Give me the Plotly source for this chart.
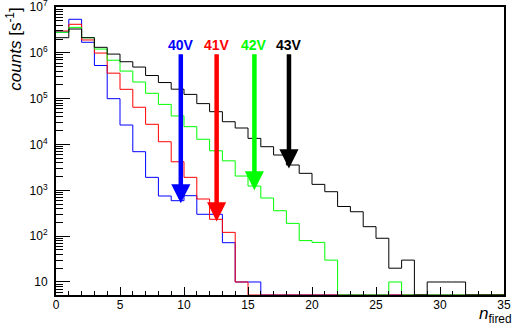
import math
import plotly.graph_objects as go

# ---- data ----
bin_edges = list(range(0, 36))  # 35 bins of width 1, from 0 to 35

blue_40V = [2.85e6, 5.4e6, 1.70e6, 5.3e5, 1.0e5, 2.66e4, 6.97e3, 1.92e3, 752, 594,
            764, 300, 300, 72, 10, 10, 0, 0, 0, 0,
            0, 0, 0, 0, 0, 0, 0, 0, 0, 0,
            0, 0, 0, 0, 0]
red_41V = [3.0e6, 4.2e6, 1.91e6, 9.9e5, 3.6e5, 1.6e5, 6.5e4, 2.76e4, 1.15e4, 4.2e3,
           1.92e3, 647, 233, 121, 10, 0, 0, 0, 0, 0,
           0, 0, 0, 0, 0, 0, 0, 0, 0, 0,
           0, 0, 0, 0, 0]
green_42V = [2.81e6, 3.6e6, 2.14e6, 1.21e6, 6.9e5, 4.0e5, 2.31e5, 1.31e5, 7.5e4, 4.2e4,
             2.45e4, 1.30e4, 7.3e3, 4.4e3, 2.05e3, 1.24e3, 680, 359, 190, 80,
             73, 30, 0, 0, 0, 0, 10, 0, 0, 0,
             0, 0, 0, 0, 0]
black_43V = [2.14e6, 3.31e6, 2.14e6, 1.32e6, 9.4e5, 6.4e5, 4.9e5, 3.2e5, 2.25e5, 1.61e5,
             1.24e5, 7.8e4, 5.2e4, 3.14e4, 2.29e4, 1.36e4, 8.95e3, 5.9e3, 3.57e3, 2.35e3,
             1.35e3, 933, 444, 341, 161, 90, 20, 30, 0, 10,
             10, 10, 0, 0, 0]

series_names = ["40V", "41V", "42V", "43V"]
series_values = [blue_40V, red_41V, green_42V, black_43V]
series_colors = ["#0000ff", "#ff0000", "#00ff00", "#000000"]

arrow_x = [9.75, 12.55, 15.5, 18.2]
arrow_tip = [5.2e2, 2.1e2, 1.0e3, 3.0e3]
arrow_tail = [1.0e6, 1.0e6, 1.0e6, 1.0e6]

y_min, y_max = 5.2, 1e7
x_min, x_max = 0, 35

y_tick_vals = [10, 1e2, 1e3, 1e4, 1e5, 1e6, 1e7]
y_tick_text = ["10", "10<sup>2</sup>", "10<sup>3</sup>", "10<sup>4</sup>",
               "10<sup>5</sup>", "10<sup>6</sup>", "10<sup>7</sup>"]
x_tick_vals = [0, 5, 10, 15, 20, 25, 30, 35]

FONT = "Liberation Sans, Arial, Helvetica, sans-serif"

fig = go.Figure()

for name, vals, col in zip(series_names, series_values, series_colors):
    yplot = [v if v > 0 else y_min for v in vals]
    fig.add_trace(go.Scatter(
        x=bin_edges,
        y=yplot + [yplot[-1]],
        mode="lines",
        line=dict(color=col, width=1, shape="hv"),
        name=name,
        showlegend=False,
        cliponaxis=True,
    ))

for name, xa, tip, tail, col in zip(series_names, arrow_x, arrow_tip, arrow_tail, series_colors):
    fig.add_annotation(
        x=xa, y=math.log10(tip), ax=xa, ay=math.log10(tail),
        xref="x", yref="y", axref="x", ayref="y",
        text="", showarrow=True, arrowhead=2, arrowsize=0.85,
        arrowwidth=4.5, arrowcolor=col, standoff=0,
    )
    fig.add_annotation(
        x=xa, y=0.868, xref="x", yref="paper",
        text="<b>" + name + "</b>", showarrow=False,
        font=dict(family=FONT, size=14, color=col),
        xanchor="center", yanchor="middle",
    )

# axis titles
fig.add_annotation(
    x=-0.094, y=0.855, xref="paper", yref="paper",
    text="<i>counts</i> [s<sup>-1</sup>]", textangle=-90, showarrow=False,
    font=dict(family=FONT, size=17, color="black"),
    xanchor="center", yanchor="middle",
)
fig.add_annotation(
    x=1.022, y=-0.068, xref="paper", yref="paper",
    text="<i>n</i><sub>fired</sub>", showarrow=False,
    font=dict(family=FONT, size=17, color="black"),
    xanchor="right", yanchor="middle",
)

minor_y = [m * 10 ** e for e in range(0, 7) for m in range(2, 10)]

fig.update_layout(
    width=515, height=331,
    margin=dict(l=56, r=11, t=7, b=36, autoexpand=False),
    paper_bgcolor="white", plot_bgcolor="white",
    font=dict(family=FONT, size=12, color="black"),
    xaxis=dict(
        range=[x_min, x_max], showgrid=False, zeroline=False, automargin=False,
        showline=True, linecolor="black", linewidth=2, mirror=True,
        tickmode="array", tickvals=x_tick_vals,
        ticks="inside", ticklen=8, tickwidth=1, tickcolor="black",
        minor=dict(ticks="inside", ticklen=4, tickwidth=1, tickcolor="black",
                   tickmode="linear", tick0=0, dtick=1, showgrid=False),
        tickfont=dict(family=FONT, size=12), ticklabelstandoff=-2,
        ticklabeloverflow="allow",
    ),
    yaxis=dict(
        type="log", range=[math.log10(y_min), math.log10(y_max) + 0.0005],
        showgrid=False, zeroline=False, automargin=False,
        showline=True, linecolor="black", linewidth=2, mirror=True,
        tickmode="array", tickvals=y_tick_vals, ticktext=y_tick_text,
        ticks="inside", ticklen=14, tickwidth=1, tickcolor="black",
        minor=dict(ticks="inside", ticklen=7, tickwidth=1, tickcolor="black",
                   tickmode="array", tickvals=minor_y, showgrid=False),
        tickfont=dict(family=FONT, size=12), ticklabelstandoff=4,
        ticklabeloverflow="allow",
    ),
)

fig.write_html(
    "out.html",
    config={"displayModeBar": False},
    post_script="document.body.style.margin='0';document.body.style.padding='0';",
)
